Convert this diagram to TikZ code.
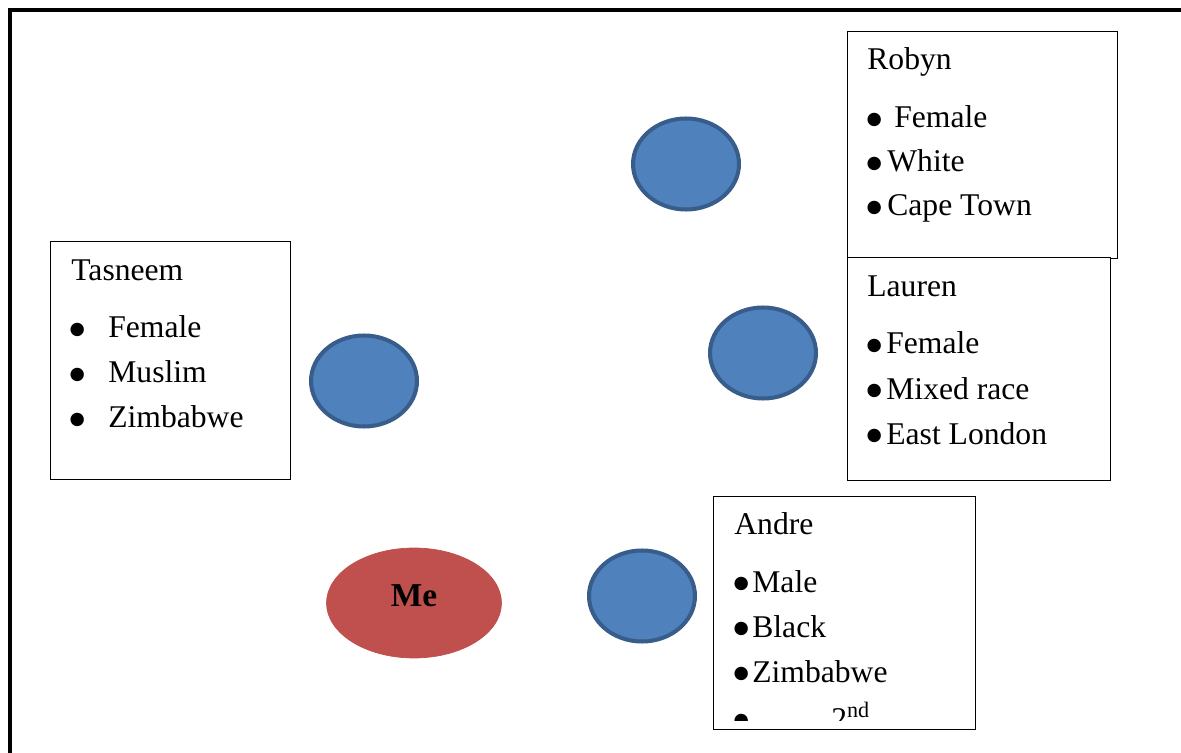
\documentclass[tikz,border=0pt]{standalone}
\usepackage{fontspec}
\setmainfont{Liberation Serif}
\newfontfamily\bulletfont{DejaVu Sans}
\usetikzlibrary{shapes.geometric}
\definecolor{friendfill}{HTML}{4F81BD}
\definecolor{friendline}{HTML}{385D8A}
\definecolor{mefill}{HTML}{C0504D}
% bullet, centred 0.12cm from the left, in a box of the given width
\newcommand{\bul}[1]{\makebox[#1][l]{\makebox[0.24cm][c]{\raisebox{1.8pt}{\bulletfont\fontsize{10}{10}\selectfont ●}}}}

\begin{document}
\begin{tikzpicture}[x=0.02cm,y=-0.02cm]
        \tikzstyle{every node}=[font=\fontsize{18}{21}\selectfont]
        \tikzstyle{friend}=[ellipse, fill=friendfill, draw=friendline, line width=2.3pt, minimum width=2.12cm, minimum height=1.82cm]
        \tikzstyle{infobox}=[draw, fill=white, line width=0.6pt, anchor=north west, inner sep=0pt]
        \tikzstyle{entry}=[anchor=base west, inner sep=0pt]
        \useasboundingbox (0,0) rectangle (1181,753);
        % frame
        \draw[line width=2.3pt] (10,753) |- (1181,10);
        % people
        \node[friend] (robyn) at (686,164) {};
        \node[friend] (lauren) at (763,353) {};
        \node[friend] (tasneem) at (364,381) {};
        \node[friend] (andre) at (642,596) {};
        \node[ellipse, fill=mefill, draw=mefill, minimum width=3.5cm, minimum height=2.2cm] (me) at (414,603) {};
        \node[font=\fontsize{19}{21}\selectfont\bfseries] (me label) at (414,596) {Me};
        % Robyn
        \node[infobox, minimum width=5.4cm, minimum height=4.54cm] (robyn box) at (847,31) {};
        \node[entry] (robyn name) at (867,70) {Robyn};
        \node[entry] (robyn item1) at (868,128) {\bul{0.52cm}Female};
        \node[entry] (robyn item2) at (868,172) {\bul{0.38cm}White};
        \node[entry] (robyn item3) at (868,216) {\bul{0.38cm}Cape Town};
        % Lauren
        \node[infobox, minimum width=5.26cm, minimum height=4.46cm] (lauren box) at (847,257) {};
        \node[entry] (lauren name) at (867,297) {Lauren};
        \node[entry] (lauren item1) at (868,354) {\bul{0.36cm}Female};
        \node[entry] (lauren item2) at (868,399) {\bul{0.36cm}Mixed race};
        \node[entry] (lauren item3) at (868,444) {\bul{0.36cm}East London};
        % Tasneem
        \node[infobox, minimum width=4.8cm, minimum height=4.76cm] (tasneem box) at (50,241) {};
        \node[entry] (tasneem name) at (71,281) {Tasneem};
        \node[entry] (tasneem item1) at (71,338) {\bul{0.74cm}Female};
        \node[entry] (tasneem item2) at (71,383) {\bul{0.74cm}Muslim};
        \node[entry] (tasneem item3) at (71,428) {\bul{0.74cm}Zimbabwe};
        % Andre
        \node[infobox, minimum width=5.24cm, minimum height=4.66cm] (andre box) at (713,496) {};
        \node[entry] (andre name) at (734,535) {Andre};
        \node[entry] (andre item1) at (735,592) {\bul{0.34cm}Male};
        \node[entry] (andre item2) at (735,637) {\bul{0.34cm}Black};
        \node[entry] (andre item3) at (735,682) {\bul{0.34cm}Zimbabwe};
        \begin{scope}
            \clip (713,496) rectangle (975,720);
            \node[entry] (andre item4) at (735,729) {\bul{1.92cm}2\textsuperscript{nd}};
        \end{scope}
\end{tikzpicture}
\end{document}
